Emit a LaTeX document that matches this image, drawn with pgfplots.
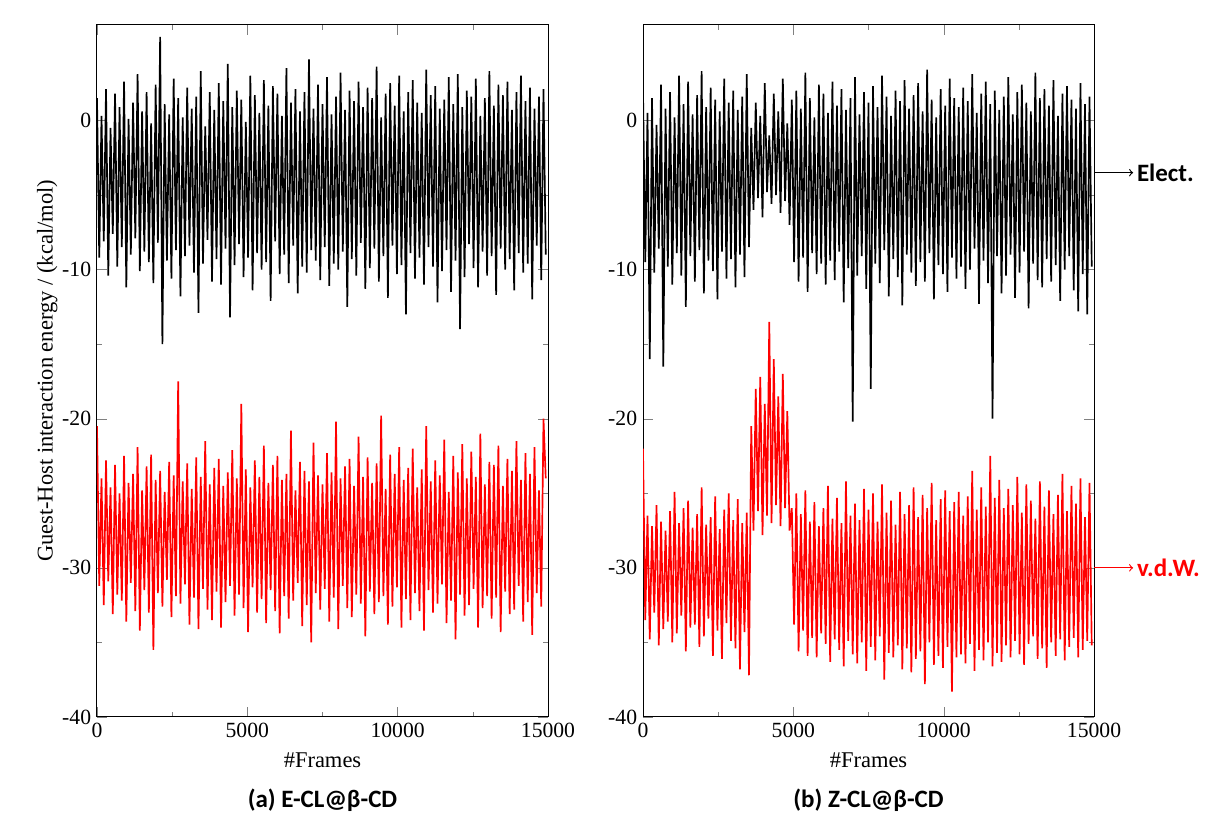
\documentclass[border=0pt]{standalone}
\usepackage{pgfplots}
\pgfplotsset{compat=1.18}
\usepackage{pgfplotstable}
\usepackage{fontspec}
\setmainfont{Liberation Serif}
\newfontfamily\calfont{Carlito}
\pgfplotstableread[row sep=\\]{
y\\
1.5\\ -9.2\\ 0.3\\ -8.1\\ 2.1\\ -10.4\\ -0.5\\ -7.6\\ 1.8\\ -9.8\\ 0.9\\ -8.5\\ 2.6\\ -11.2\\ 0.1\\ -9.0\\ 1.2\\ -7.9\\ 3.1\\ -10.1\\
0.6\\ -8.8\\ 1.9\\ -9.5\\ -0.2\\ -10.9\\ 2.4\\ -8.2\\ 5.6\\ -15.0\\ 1.1\\ -9.4\\ 0.4\\ -10.6\\ 2.8\\ -8.7\\ 1.5\\ -11.8\\ 0.2\\ -9.1\\
2.2\\ -8.4\\ 0.8\\ -10.2\\ 1.6\\ -12.9\\ 3.3\\ -9.6\\ -0.4\\ -8.0\\ 1.9\\ -10.8\\ 0.7\\ -9.3\\ 2.5\\ -11.0\\ 1.3\\ -8.6\\ 3.8\\ -13.2\\
0.9\\ -9.7\\ 2.0\\ -8.3\\ 1.4\\ -10.5\\ -0.1\\ -9.2\\ 3.0\\ -11.4\\ 1.7\\ -8.9\\ 0.5\\ -10.0\\ 2.7\\ -9.5\\ 1.0\\ -12.1\\ 2.3\\ -8.1\\
1.8\\ -10.3\\ 0.3\\ -9.0\\ 3.5\\ -10.9\\ 1.2\\ -8.4\\ 2.1\\ -11.6\\ 0.6\\ -9.8\\ 1.9\\ -10.2\\ 4.1\\ -8.7\\ 0.8\\ -9.4\\ 2.4\\ -10.7\\
1.1\\ -8.5\\ 2.9\\ -11.1\\ 0.4\\ -9.6\\ 1.6\\ -10.0\\ 3.2\\ -8.8\\ 0.7\\ -12.5\\ 2.0\\ -9.3\\ 1.3\\ -10.4\\ 2.6\\ -8.2\\ 0.9\\ -11.3\\
2.2\\ -9.9\\ 1.5\\ -8.6\\ 3.6\\ -10.8\\ 0.2\\ -9.1\\ 1.8\\ -11.9\\ 2.5\\ -8.4\\ 1.0\\ -10.3\\ 3.0\\ -9.7\\ 0.6\\ -13.0\\ 1.9\\ -8.9\\
2.7\\ -10.6\\ 1.2\\ -9.2\\ 0.5\\ -11.0\\ 3.4\\ -8.5\\ 1.7\\ -9.8\\ 2.3\\ -12.2\\ 0.8\\ -10.1\\ 1.4\\ -8.7\\ 2.9\\ -11.5\\ 1.1\\ -9.4\\
3.1\\ -14.0\\ 0.9\\ -10.5\\ 2.0\\ -8.3\\ 1.6\\ -9.9\\ 2.8\\ -11.2\\ 0.3\\ -8.8\\ 1.5\\ -10.4\\ 3.3\\ -9.1\\ 1.0\\ -11.7\\ 2.4\\ -8.6\\
1.7\\ -10.0\\ 2.6\\ -9.3\\ 0.7\\ -11.4\\ 1.9\\ -8.9\\ 3.0\\ -10.2\\ 1.3\\ -9.6\\ 2.2\\ -12.0\\ 0.8\\ -8.4\\ 1.6\\ -10.7\\ 2.1\\ -9.0\\
}\ablack
\pgfplotstableread[row sep=\\]{
y\\
-20.5\\ -31.2\\ -24.0\\ -32.5\\ -22.8\\ -30.9\\ -24.6\\ -33.1\\ -23.1\\ -31.8\\ -25.0\\ -32.2\\ -22.5\\ -33.6\\ -24.3\\ -31.0\\ -23.7\\ -32.9\\ -21.9\\ -34.2\\
-24.8\\ -31.5\\ -23.2\\ -33.0\\ -22.4\\ -35.5\\ -24.1\\ -31.7\\ -23.5\\ -32.6\\ -24.9\\ -30.8\\ -22.9\\ -33.3\\ -23.8\\ -31.9\\ -17.5\\ -32.4\\ -24.2\\ -31.1\\
-23.0\\ -33.8\\ -24.7\\ -32.0\\ -22.6\\ -34.1\\ -23.9\\ -31.4\\ -21.5\\ -32.8\\ -24.4\\ -33.5\\ -23.3\\ -31.6\\ -22.7\\ -34.0\\ -24.5\\ -32.3\\ -23.6\\ -31.2\\
-22.1\\ -33.2\\ -24.0\\ -31.8\\ -19.0\\ -32.7\\ -23.4\\ -34.3\\ -24.6\\ -31.3\\ -22.8\\ -33.0\\ -23.9\\ -32.1\\ -21.8\\ -33.7\\ -24.3\\ -31.5\\ -23.1\\ -32.9\\
-22.5\\ -34.4\\ -24.1\\ -31.9\\ -23.7\\ -33.4\\ -20.8\\ -32.2\\ -24.8\\ -31.0\\ -22.9\\ -33.9\\ -23.5\\ -32.5\\ -24.2\\ -35.0\\ -21.6\\ -31.7\\ -23.8\\ -32.8\\
-24.4\\ -31.4\\ -22.3\\ -33.6\\ -23.6\\ -32.0\\ -20.2\\ -34.1\\ -24.0\\ -31.2\\ -23.2\\ -32.7\\ -22.7\\ -33.3\\ -24.5\\ -31.8\\ -21.2\\ -32.4\\ -23.9\\ -34.6\\
-22.6\\ -31.6\\ -24.3\\ -33.1\\ -23.0\\ -32.3\\ -19.8\\ -31.9\\ -24.7\\ -33.8\\ -22.4\\ -32.6\\ -23.7\\ -31.3\\ -21.9\\ -34.0\\ -24.1\\ -32.1\\ -23.3\\ -33.5\\
-22.0\\ -31.7\\ -24.6\\ -32.9\\ -23.4\\ -34.2\\ -20.5\\ -31.5\\ -24.2\\ -33.0\\ -22.8\\ -32.4\\ -23.8\\ -31.1\\ -21.4\\ -33.7\\ -24.9\\ -32.2\\ -22.5\\ -34.8\\
-23.6\\ -31.8\\ -21.7\\ -33.2\\ -24.0\\ -32.5\\ -22.2\\ -31.4\\ -23.9\\ -34.0\\ -21.0\\ -32.7\\ -24.4\\ -31.9\\ -22.9\\ -33.4\\ -23.1\\ -32.0\\ -21.8\\ -34.3\\
-24.5\\ -31.6\\ -22.7\\ -33.1\\ -23.5\\ -32.8\\ -21.5\\ -31.2\\ -24.1\\ -33.6\\ -22.3\\ -32.3\\ -23.7\\ -34.5\\ -21.9\\ -31.7\\ -24.8\\ -32.6\\ -20.0\\ -24.0\\
}\ared
\pgfplotstableread[row sep=\\]{
y\\
2.0\\ -9.5\\ 0.5\\ -16.0\\ 1.5\\ -10.2\\ -0.3\\ -8.6\\ 2.4\\ -16.5\\ 0.8\\ -9.8\\ 1.9\\ -11.0\\ 0.2\\ -8.9\\ 3.0\\ -10.4\\ 1.1\\ -12.5\\
2.6\\ -9.1\\ 0.4\\ -10.8\\ 1.7\\ -8.7\\ 3.3\\ -11.6\\ 0.9\\ -9.4\\ 2.2\\ -10.1\\ 1.4\\ -12.0\\ 0.6\\ -8.8\\ 2.8\\ -10.6\\ 1.2\\ -9.3\\
2.0\\ -11.2\\ 0.7\\ -9.0\\ 1.6\\ -10.5\\ 3.1\\ -8.5\\ -0.5\\ -6.0\\ 1.2\\ -5.2\\ 0.3\\ -6.5\\ 2.5\\ -4.8\\ -1.0\\ -5.6\\ 1.8\\ -5.0\\
0.6\\ -6.2\\ 2.8\\ -5.4\\ -0.2\\ -7.0\\ 1.4\\ -9.5\\ 2.0\\ -10.8\\ 0.8\\ -9.2\\ 3.2\\ -11.5\\ 1.5\\ -8.9\\ 0.2\\ -10.3\\ 2.4\\ -9.6\\
1.8\\ -11.0\\ 0.5\\ -9.4\\ 2.6\\ -10.7\\ 1.0\\ -8.8\\ 2.1\\ -12.2\\ 0.7\\ -9.9\\ 1.5\\ -20.2\\ 2.9\\ -10.4\\ 0.4\\ -9.1\\ 1.9\\ -11.3\\
1.2\\ -18.0\\ 2.3\\ -9.6\\ 0.9\\ -10.9\\ 3.0\\ -8.7\\ 1.6\\ -11.8\\ 0.3\\ -9.3\\ 2.0\\ -10.5\\ 1.3\\ -12.4\\ 2.7\\ -9.0\\ 0.8\\ -10.2\\
1.7\\ -11.1\\ 2.5\\ -9.5\\ 0.6\\ -10.8\\ 3.4\\ -8.9\\ 1.4\\ -12.0\\ 0.2\\ -9.7\\ 2.1\\ -10.3\\ 1.0\\ -11.5\\ 2.8\\ -9.2\\ 1.5\\ -10.6\\
0.9\\ -9.8\\ 2.2\\ -11.3\\ 1.3\\ -10.0\\ 3.1\\ -8.6\\ 0.5\\ -12.3\\ 1.8\\ -9.4\\ 2.6\\ -10.9\\ 1.1\\ -20.0\\ 2.0\\ -9.1\\ 0.7\\ -11.6\\
1.6\\ -10.4\\ 2.9\\ -9.0\\ 0.4\\ -11.9\\ 1.9\\ -10.2\\ 2.4\\ -8.8\\ 1.2\\ -12.6\\ 0.6\\ -9.6\\ 3.2\\ -10.7\\ 1.5\\ -11.2\\ 2.1\\ -9.3\\
1.0\\ -10.8\\ 2.7\\ -9.7\\ 0.3\\ -12.1\\ 1.8\\ -10.0\\ 2.3\\ -9.1\\ 1.4\\ -11.4\\ 0.8\\ -12.8\\ 2.5\\ -10.3\\ 1.1\\ -13.0\\ 1.6\\ -9.8\\
}\bblack
\pgfplotstableread[row sep=\\]{
y\\
-22.0\\ -33.5\\ -26.5\\ -34.8\\ -27.2\\ -33.0\\ -25.8\\ -35.2\\ -26.9\\ -34.1\\ -27.5\\ -33.6\\ -26.2\\ -35.0\\ -24.9\\ -34.4\\ -27.0\\ -33.2\\ -26.0\\ -35.6\\
-25.5\\ -34.0\\ -27.3\\ -33.8\\ -26.4\\ -35.3\\ -24.6\\ -34.6\\ -27.1\\ -33.4\\ -26.6\\ -35.9\\ -25.2\\ -34.2\\ -27.4\\ -36.1\\ -26.1\\ -33.7\\ -25.0\\ -34.9\\
-26.8\\ -35.4\\ -25.4\\ -36.8\\ -27.0\\ -34.3\\ -26.3\\ -37.2\\ -20.5\\ -27.5\\ -18.0\\ -26.2\\ -17.2\\ -27.8\\ -19.0\\ -26.5\\ -13.5\\ -27.0\\ -16.0\\ -25.8\\
-18.5\\ -27.2\\ -17.0\\ -26.0\\ -19.5\\ -27.5\\ -26.0\\ -33.8\\ -25.0\\ -35.6\\ -26.4\\ -34.2\\ -24.8\\ -35.9\\ -26.9\\ -34.7\\ -25.6\\ -36.0\\ -27.2\\ -34.4\\
-26.0\\ -35.1\\ -24.5\\ -36.3\\ -26.7\\ -34.8\\ -25.3\\ -35.5\\ -27.0\\ -36.6\\ -24.2\\ -34.9\\ -26.5\\ -35.8\\ -25.7\\ -36.4\\ -26.8\\ -35.0\\ -24.7\\ -36.9\\
-26.1\\ -35.3\\ -25.0\\ -36.2\\ -26.9\\ -34.6\\ -24.4\\ -37.5\\ -26.3\\ -35.7\\ -25.5\\ -36.0\\ -27.1\\ -35.2\\ -24.9\\ -36.8\\ -26.4\\ -35.4\\ -25.8\\ -37.0\\
-24.6\\ -36.1\\ -26.6\\ -35.6\\ -25.1\\ -37.8\\ -26.0\\ -35.0\\ -24.3\\ -36.5\\ -26.8\\ -35.9\\ -25.4\\ -36.7\\ -24.8\\ -35.3\\ -26.2\\ -38.3\\ -25.6\\ -36.0\\
-24.9\\ -35.8\\ -26.5\\ -36.4\\ -25.2\\ -35.1\\ -23.5\\ -36.9\\ -26.1\\ -35.5\\ -24.6\\ -36.2\\ -25.9\\ -35.0\\ -22.5\\ -36.6\\ -25.3\\ -35.7\\ -24.1\\ -36.3\\
-26.0\\ -35.2\\ -24.7\\ -36.0\\ -25.8\\ -34.9\\ -23.9\\ -35.8\\ -26.3\\ -36.5\\ -24.4\\ -35.1\\ -25.5\\ -34.6\\ -26.7\\ -36.1\\ -24.2\\ -35.4\\ -25.9\\ -36.7\\
-24.8\\ -35.0\\ -26.4\\ -35.9\\ -25.1\\ -34.8\\ -23.7\\ -36.2\\ -26.2\\ -35.3\\ -24.5\\ -34.7\\ -25.7\\ -36.0\\ -24.0\\ -35.5\\ -26.6\\ -34.9\\ -24.3\\ -35.2\\
}\bred
\pgfplotsset{
  panel/.style={
    scale only axis, width=270.6pt, height=415.2pt,
    xmin=0, xmax=15000, ymin=-40, ymax=6.4,
    xtick={0,5000,10000,15000}, ytick={-40,-30,-20,-10,0},
    minor x tick num=1, minor y tick num=1,
    tick align=inside, major tick length=6pt, minor tick length=3pt,
    scaled x ticks=false,
    xticklabel style={/pgf/number format/1000 sep={}},
    /pgf/number format/assume math mode=true,
    tick label style={font=\fontsize{13}{15}\selectfont},
    label style={font=\fontsize{13.5}{15}\selectfont},
    xlabel={\#Frames}, xlabel style={yshift=-2pt},
    axis line style={line width=0.6pt},
    every axis plot/.append style={line width=1.0pt, line join=bevel},
  },
}
\begin{document}
\begin{tikzpicture}
\path (-58.2pt,-62.4pt) rectangle (675.6pt,430.2pt);
\begin{axis}[panel, at={(0,0)}, anchor=south west,
  ylabel={Guest-Host interaction energy / (kcal/mol)}, ylabel style={yshift=-4pt}]
\addplot[black] table[x expr=\coordindex*75, y=y] {\ablack};
\addplot[red] table[x expr=\coordindex*75, y=y] {\ared};
\end{axis}
\node[font=\calfont\bfseries\fontsize{15}{17}\selectfont] at (135.3pt,-50pt) {(a) E-CL@β-CD};
\begin{axis}[panel, at={(327.6pt,0)}, anchor=south west, clip mode=individual]
\addplot[black] table[x expr=\coordindex*75, y=y] {\bblack};
\addplot[red] table[x expr=\coordindex*75, y=y] {\bred};
\draw[->, line width=0.7pt] (axis cs:15000,-3.5) -- (axis cs:16300,-3.5)
  node[right, font=\calfont\bfseries\fontsize{15}{17}\selectfont, inner sep=2pt] {Elect.};
\draw[->, red, line width=0.7pt] (axis cs:15000,-30) -- (axis cs:16300,-30)
  node[right, font=\calfont\bfseries\fontsize{15}{17}\selectfont, inner sep=2pt, text=red] {v.d.W.};
\end{axis}
\node[font=\calfont\bfseries\fontsize{15}{17}\selectfont] at (462.9pt,-50pt) {(b) Z-CL@β-CD};
\end{tikzpicture}
\end{document}
